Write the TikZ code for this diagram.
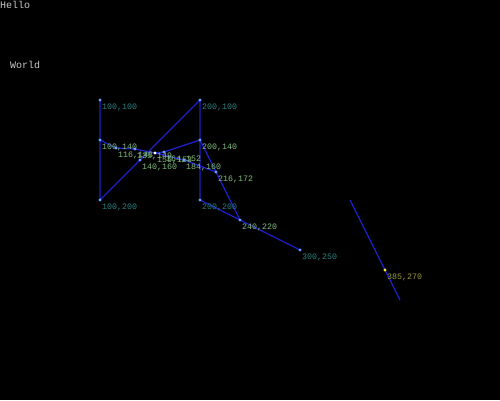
\documentclass[tikz,border=0pt]{standalone}
\usepackage{fontspec}
\setmonofont{Liberation Mono}
\usetikzlibrary{shapes.geometric}
\definecolor{lineblue}{RGB}{30,30,200}
\definecolor{mkblue}{RGB}{100,160,255}
\definecolor{lblteal}{RGB}{45,130,130}
\definecolor{lblgreen}{RGB}{130,190,130}
\definecolor{lblolive}{RGB}{155,155,60}
\definecolor{txtgray}{RGB}{200,200,200}
\tikzset{
  ln/.style={draw=lineblue, line width=1.3pt, line join=round},
  mk/.style={diamond, fill=mkblue, inner sep=0pt, minimum size=3.6pt},
  mkwhite/.style={mk, fill=white},
  mkyellow/.style={mk, fill=yellow!80!white},
  lbl/.style={font=\ttfamily\fontsize{8.3}{9}\selectfont, anchor=base west, inner sep=0pt},
  lt/.style={lbl, text=lblteal},
  lg/.style={lbl, text=lblgreen},
  lo/.style={lbl, text=lblolive},
  big/.style={font=\ttfamily\fontsize{10}{11}\selectfont, anchor=base west, inner sep=0pt, text=txtgray}
}
\begin{document}
\begin{tikzpicture}[x=1pt,y=-1pt]
\fill[black] (0,0) rectangle (500,400);
\useasboundingbox (0,0) rectangle (500,400);

\node[big] (hello) at (0,8.5) {Hello};
\node[big] (world) at (10,68.5) {World};

% points
\coordinate (p1) at (100,100);
\coordinate (p2) at (200,100);
\coordinate (p3) at (100,140);
\coordinate (p4) at (200,140);
\coordinate (p5) at (100,200);
\coordinate (p6) at (200,200);
\coordinate (q1) at (116,148);
\coordinate (q2) at (135,149);
\coordinate (q3) at (155,153);
\coordinate (q4) at (164,152);
\coordinate (q5) at (140,160);
\coordinate (q6) at (184,160);
\coordinate (q7) at (216,172);
\coordinate (q8) at (240,220);
\coordinate (q9) at (300,250);
\coordinate (r1) at (350,200);
\coordinate (r2) at (400,300);
\coordinate (r3) at (385,270);

% lines
\draw[ln] (p1) -- (p5) -- (p2) -- (p6);
\draw[ln] (p6) -- (q8) -- (q9);
\draw[ln] (p4) -- (q7) -- (q8);
\draw[ln] (p3) -- (q1) -- (q2) -- (q3) -- (q4) -- (p4);
\draw[ln] (q3) -- (q6) -- (q7);
\draw[ln] (r1) -- (r3) -- (r2);

% markers
\foreach \p in {p1,p2,p3,p4,p5,p6,q1,q2,q4,q5,q6,q7,q8,q9}
  \node[mk] (m\p) at (\p) {};
\node[mkwhite] (mq3) at (q3) {};
\node[mkyellow] (mr3) at (r3) {};

% labels
\node[lt] (l1) at ([shift={(2,9)}]p1) {100,100};
\node[lt] (l2) at ([shift={(2,9)}]p2) {200,100};
\node[lg] (l3) at ([shift={(2,9)}]p3) {100,140};
\node[lg] (l4) at ([shift={(2,9)}]p4) {200,140};
\node[lt] (l5) at ([shift={(2,9)}]p5) {100,200};
\node[lt] (l6) at ([shift={(2,9)}]p6) {200,200};
\node[lg] (lq1) at ([shift={(2,9)}]q1) {116,148};
\node[lg] (lq2) at ([shift={(2,9)}]q2) {135,149};
\node[lg] (lq3) at ([shift={(2,9)}]q3) {155,153};
\node[lg] (lq4) at ([shift={(2,9)}]q4) {164,152};
\node[lg] (lq5) at ([shift={(2,9)}]q5) {140,160};
\node[lg] (lq6) at ([shift={(2,9)}]q6) {184,160};
\node[lg] (lq7) at ([shift={(2,9)}]q7) {216,172};
\node[lg] (lq8) at ([shift={(2,9)}]q8) {240,220};
\node[lt] (lq9) at ([shift={(2,9)}]q9) {300,250};
\node[lo] (lr3) at ([shift={(2,9)}]r3) {385,270};
\end{tikzpicture}
\end{document}
